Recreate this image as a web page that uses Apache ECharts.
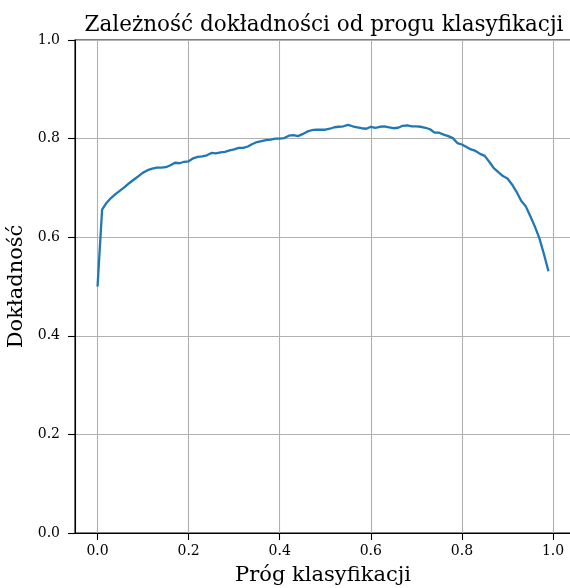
<!DOCTYPE html>
<html><head><meta charset="utf-8">
<script src="https://cdn.jsdelivr.net/npm/echarts@6/dist/echarts.min.js"></script>
<style>html,body{margin:0;padding:0;background:#fff}#c{width:570px;height:588px}</style>
</head><body><div id="c"></div>
<script>
const thresholds = [];
for (let i = 0; i < 100; i++) thresholds.push(+(i * 0.01).toFixed(2));
const accuracy = [
0.500,0.656,0.670,0.680,0.688,0.695,0.702,0.710,0.717,0.724,
0.731,0.736,0.739,0.741,0.741,0.742,0.746,0.751,0.750,0.753,
0.754,0.760,0.763,0.764,0.766,0.771,0.770,0.772,0.773,0.776,
0.778,0.781,0.781,0.784,0.789,0.793,0.795,0.797,0.798,0.800,
0.800,0.801,0.806,0.807,0.805,0.809,0.814,0.817,0.818,0.818,
0.818,0.820,0.823,0.824,0.825,0.828,0.825,0.823,0.821,0.820,
0.824,0.822,0.824,0.825,0.823,0.821,0.822,0.826,0.827,0.825,
0.825,0.824,0.822,0.819,0.812,0.812,0.808,0.805,0.801,0.791,
0.788,0.783,0.778,0.775,0.769,0.765,0.753,0.740,0.732,0.724,
0.719,0.707,0.692,0.674,0.663,0.643,0.622,0.598,0.566,0.531];
const xTicks = [0, 0.2, 0.4, 0.6, 0.8, 1.0];
const yTicks = [0, 0.2, 0.4, 0.6, 0.8, 1.0];
const titleText = 'Zależność dokładności od progu klasyfikacji';
const xLabel = 'Próg klasyfikacji';
const yLabel = 'Dokładność';

const serif = 'DejaVu Serif';
const chart = echarts.init(document.getElementById('c'), null, {renderer: 'canvas'});
chart.setOption({
  animation: false,
  title: {text: titleText, left: 319, top: 9, textAlign: 'center',
    textStyle: {fontFamily: serif, fontSize: 21.5, fontWeight: 'normal', color: '#000'}},
  grid: {left: 75, right: -1, top: 40, bottom: 55, show: true, borderColor: '#000', borderWidth: 1.1,
    containLabel: false, outerBoundsMode: 'none'},
  xAxis: {type: 'value', min: -0.0495, max: 1.0395,
    name: xLabel, nameLocation: 'middle', nameGap: 32,
    nameTextStyle: {fontFamily: serif, fontSize: 21, color: '#000'},
    axisLine: {show: true, onZero: false, lineStyle: {color: '#000', width: 1.1}},
    axisTick: {show: true, length: 7, lineStyle: {color: '#000', width: 1.1}, customValues: xTicks},
    axisLabel: {customValues: xTicks, fontFamily: serif, fontSize: 14, color: '#000', margin: 11,
      formatter: v => v.toFixed(1)},
    splitLine: {show: true, lineStyle: {color: '#b0b0b0', width: 1.1}}
  },
  yAxis: {type: 'value', min: 0, max: 1, interval: 0.2,
    name: yLabel, nameLocation: 'middle', nameGap: 40,
    nameTextStyle: {fontFamily: serif, fontSize: 21, color: '#000'},
    axisLine: {show: true, onZero: false, lineStyle: {color: '#000', width: 1.1}},
    axisTick: {show: true, length: 7, lineStyle: {color: '#000', width: 1.1}},
    axisLabel: {fontFamily: serif, fontSize: 14, color: '#000', margin: 15, formatter: v => v.toFixed(1)},
    splitLine: {show: true, lineStyle: {color: '#b0b0b0', width: 1.1}}
  },
  series: [{type: 'line', data: thresholds.map((x, i) => [x, accuracy[i]]),
    showSymbol: false, symbol: 'none', lineStyle: {color: '#1f77b4', width: 2.3}, z: 5}]
});
</script></body></html>
